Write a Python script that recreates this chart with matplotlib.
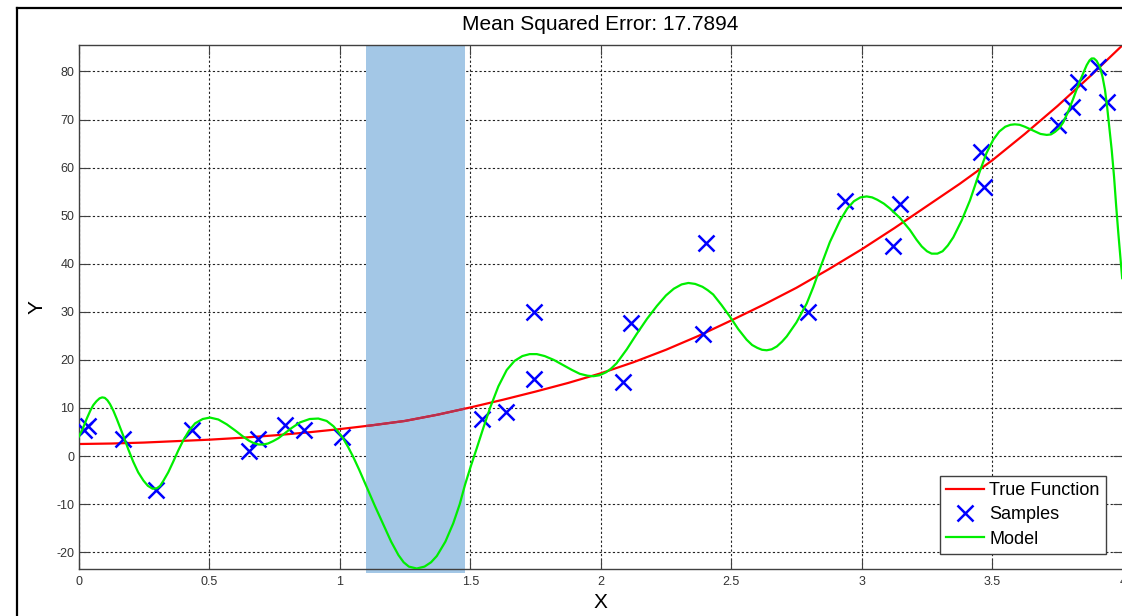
import numpy as np
import matplotlib.pyplot as plt
from matplotlib.lines import Line2D

plt.rcParams['font.family'] = ['Liberation Sans', 'DejaVu Sans']
plt.rcParams['axes.unicode_minus'] = False

# true function
x_true = np.array([0, 0.125, 0.25, 0.375, 0.5, 0.625, 0.75, 0.875, 1.0, 1.125, 1.25,
                   1.375, 1.5, 1.625, 1.75, 1.875, 2.0, 2.125, 2.25, 2.375, 2.5,
                   2.625, 2.75, 2.875, 3.0, 3.125, 3.25, 3.375, 3.5, 3.625, 3.75, 3.875, 4.0])
y_true = np.array([2.5, 2.6, 2.8, 3.1, 3.4, 3.8, 4.3, 4.9, 5.6, 6.4, 7.3,
                   8.6, 10.1, 11.7, 13.4, 15.2, 17.2, 19.5, 22.1, 25.0, 28.2,
                   31.5, 35.0, 38.9, 43.0, 47.4, 52.0, 56.6, 61.5, 67.0, 72.8, 79.0, 85.5])

# noisy samples
x_samples = np.array([0.020, 0.037, 0.171, 0.296, 0.433, 0.654, 0.688, 0.790, 0.863, 1.010,
                      1.544, 1.636, 1.746, 1.743, 2.087, 2.115, 2.391, 2.403, 2.795, 2.936,
                      3.121, 3.147, 3.457, 3.469, 3.752, 3.805, 3.830, 3.905, 3.939])
y_samples = np.array([5.4, 6.3, 3.5, -7.0, 5.5, 1.1, 3.6, 6.4, 5.4, 3.9,
                      7.8, 9.1, 29.9, 16.1, 15.4, 27.7, 25.4, 44.3, 30.0, 53.0,
                      43.7, 52.4, 63.3, 56.0, 68.9, 72.7, 77.8, 80.9, 73.6])

# fitted model curve
x_model = np.array([0.000, 0.015, 0.031, 0.045, 0.056, 0.068, 0.080, 0.090, 0.100, 0.110,
                    0.120, 0.133, 0.146, 0.158, 0.171, 0.190, 0.209, 0.228, 0.248, 0.265,
                    0.283, 0.300, 0.312, 0.324, 0.343, 0.362, 0.381, 0.401, 0.423, 0.446,
                    0.475, 0.503, 0.535, 0.567, 0.600, 0.631, 0.652, 0.670, 0.690, 0.707,
                    0.725, 0.745, 0.765, 0.784, 0.815, 0.848, 0.885, 0.918, 0.950, 0.976,
                    0.995, 1.014, 1.033, 1.052, 1.075, 1.103, 1.135, 1.167, 1.197, 1.225,
                    1.245, 1.265, 1.295, 1.325, 1.350, 1.372, 1.405, 1.435, 1.460, 1.480,
                    1.503, 1.525, 1.550, 1.576, 1.608, 1.640, 1.670, 1.700, 1.728, 1.755,
                    1.785, 1.820, 1.857, 1.890, 1.920, 1.950, 1.972, 1.995, 2.020, 2.040,
                    2.061, 2.100, 2.138, 2.177, 2.215, 2.250, 2.280, 2.310, 2.336, 2.362,
                    2.390, 2.410, 2.431, 2.463, 2.495, 2.527, 2.559, 2.580, 2.600, 2.618,
                    2.636, 2.655, 2.675, 2.695, 2.713, 2.750, 2.789, 2.815, 2.840, 2.878,
                    2.917, 2.945, 2.970, 2.995, 3.019, 3.040, 3.060, 3.085, 3.108, 3.147,
                    3.185, 3.210, 3.230, 3.250, 3.268, 3.290, 3.310, 3.330, 3.351, 3.383,
                    3.415, 3.435, 3.453, 3.478, 3.504, 3.527, 3.550, 3.570, 3.587, 3.605,
                    3.625, 3.645, 3.665, 3.685, 3.709, 3.725, 3.740, 3.757, 3.772, 3.790,
                    3.811, 3.830, 3.850, 3.862, 3.873, 3.881, 3.890, 3.900, 3.913, 3.923,
                    3.932, 3.940, 3.948, 3.958, 3.967, 3.975, 3.983, 3.990, 3.998])
y_model = np.array([4.0, 5.6, 7.8, 9.5, 10.6, 11.4, 12.0, 12.2, 12.1, 11.6,
                    10.8, 9.4, 7.7, 6.0, 4.2, 1.4, -1.2, -3.4, -5.1, -6.2,
                    -6.8, -6.7, -6.2, -5.2, -3.4, -1.2, 1.1, 3.3, 5.3, 6.8,
                    7.7, 8.0, 7.6, 6.6, 5.3, 4.0, 3.2, 2.7, 2.4, 2.4,
                    2.6, 3.1, 3.7, 4.5, 5.8, 7.0, 7.7, 7.8, 7.3, 6.2,
                    5.0, 3.6, 1.8, -0.2, -2.9, -6.4, -10.4, -14.2, -17.8, -20.6,
                    -22.1, -23.0, -23.4, -23.0, -22.1, -20.8, -17.8, -14.0, -10.0, -6.0,
                    -2.0, 1.6, 5.8, 10.0, 14.5, 17.9, 19.8, 20.8, 21.2, 21.2,
                    20.8, 20.0, 18.9, 17.9, 17.1, 16.7, 16.6, 16.8, 17.4, 18.2,
                    19.3, 22.2, 25.4, 28.5, 31.2, 33.4, 34.8, 35.7, 36.0, 35.8,
                    35.2, 34.5, 33.6, 31.4, 29.0, 26.4, 24.2, 23.1, 22.5, 22.1,
                    22.0, 22.2, 22.8, 23.8, 24.9, 27.8, 31.7, 35.2, 39.0, 44.5,
                    49.0, 51.5, 53.0, 53.8, 54.0, 53.8, 53.3, 52.5, 51.5, 49.5,
                    47.0, 45.0, 43.6, 42.6, 42.1, 42.1, 42.6, 43.8, 45.5, 49.0,
                    53.2, 56.4, 59.3, 63.0, 65.8, 67.5, 68.5, 68.9, 69.0, 68.9,
                    68.5, 68.0, 67.5, 67.0, 66.8, 66.9, 67.4, 68.2, 69.4, 71.5,
                    74.4, 77.2, 79.8, 81.3, 82.3, 82.7, 82.7, 82.2, 80.9, 78.8,
                    76.2, 72.8, 68.8, 63.6, 58.0, 52.0, 46.5, 42.0, 37.0])

mse = 17.7894
band = [1.1, 1.48]
xtick_vals = [0, 0.5, 1, 1.5, 2, 2.5, 3, 3.5, 4]
xtick_labels = ['0', '0.5', '1', '1.5', '2', '2.5', '3', '3.5', '4']
ytick_vals = [-20, -10, 0, 10, 20, 30, 40, 50, 60, 70, 80]

W, H = 1122, 616
fig = plt.figure(figsize=(W / 100, H / 100), dpi=100)
ax = fig.add_axes([78.7 / W, 47 / H, 1044 / W, 524 / H])

# shaded x range, covers the grid but not the curves
span = ax.axvspan(band[0], band[1], ymin=-0.007, ymax=1, facecolor='#a3c7e6',
                  edgecolor='none', zorder=1, clip_on=False)
ax.plot(x_true, y_true, color='red', lw=1.6, zorder=2, label='True Function')
# the part of the red curve inside the band looks darker
inner, = ax.plot(x_true, y_true, color='#b8304f', lw=1.6, zorder=2.2)
inner.set_clip_path(span)
ax.plot(x_samples, y_samples, 'x', color='blue', ms=11, mew=1.8, zorder=3, label='Samples')
ax.plot(x_model, y_model, color='#00ee00', lw=1.6, zorder=4, label='Model')

ax.set_xlim(0, 4)
ax.set_ylim(-23.5, 85.5)
ax.set_xticks(xtick_vals)
ax.set_xticklabels(xtick_labels)
ax.set_yticks(ytick_vals)
ax.set_axisbelow(True)
ax.grid(True, color='#222222', ls=(0, (2, 2)), lw=0.8)
ax.tick_params(direction='in', length=7, width=0.8, top=True, right=True,
               labelsize=9, color='#404040', labelcolor='#333333')
ax.tick_params(axis='x', pad=5)
ax.tick_params(axis='y', pad=3)
for s in ax.spines.values():
    s.set_color('#404040')
    s.set_linewidth(1.0)

leg = ax.legend(loc='lower right', bbox_to_anchor=(0.984, 0.0286), borderaxespad=0,
                fontsize=13, fancybox=False, framealpha=1, edgecolor='#404040',
                handlelength=2.1, handletextpad=0.28, labelspacing=0.4, borderpad=0.35)
leg.get_frame().set_linewidth(1.0)

fig.text(600 / W, 1 - 24 / H, f'Mean Squared Error: {mse:.4f}', ha='center', va='center', fontsize=15)
fig.text(600 / W, 1 - 602 / H, 'X', ha='center', va='center', fontsize=15)
fig.text(37 / W, 1 - 307 / H, 'Y', ha='center', va='center', fontsize=15, rotation=90)

# window frame
fig.add_artist(Line2D([17 / W, 17 / W], [0, 1 - 8 / H], color='black', lw=1.6, transform=fig.transFigure))
fig.add_artist(Line2D([17 / W, 1], [1 - 8 / H, 1 - 8 / H], color='black', lw=1.6, transform=fig.transFigure))

fig.savefig('out.png', dpi=100)
